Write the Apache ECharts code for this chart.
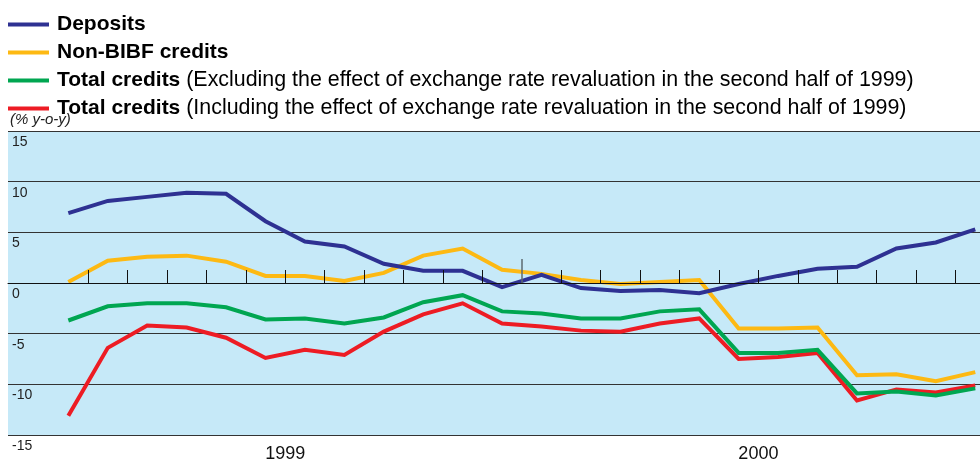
<!DOCTYPE html>
<html>
<head>
<meta charset="utf-8">
<script src="https://cdn.jsdelivr.net/npm/echarts@6/dist/echarts.min.js"></script>
<style>
  html, body { margin: 0; padding: 0; background: #fff; }
  #chart { width: 980px; height: 460px; }
</style>
</head>
<body>
<div id="chart"></div>
<script>
/* ===== data: monthly, Jan 1999 - Dec 2000 (% y-o-y) ===== */
const months = ['Jan-99','Feb-99','Mar-99','Apr-99','May-99','Jun-99','Jul-99','Aug-99','Sep-99','Oct-99','Nov-99','Dec-99',
                'Jan-00','Feb-00','Mar-00','Apr-00','May-00','Jun-00','Jul-00','Aug-00','Sep-00','Oct-00','Nov-00','Dec-00'];
const yearLabels = ['1999', '2000'];

const deposits    = [6.9, 8.1, 8.5, 8.9, 8.8, 6.1, 4.1, 3.6, 1.9, 1.2, 1.2, -0.4,
                     0.8, -0.5, -0.8, -0.7, -1.0, -0.1, 0.7, 1.4, 1.6, 3.4, 4.0, 5.3];
const nonBibf     = [0.1, 2.2, 2.6, 2.7, 2.1, 0.7, 0.7, 0.2, 1.0, 2.7, 3.4, 1.3,
                     0.9, 0.3, -0.1, 0.1, 0.3, -4.5, -4.5, -4.4, -9.1, -9.0, -9.7, -8.8];
const totalExcl   = [-3.7, -2.3, -2.0, -2.0, -2.4, -3.6, -3.5, -4.0, -3.4, -1.9, -1.2, -2.8,
                     -3.0, -3.5, -3.5, -2.8, -2.6, -6.9, -6.9, -6.6, -10.9, -10.7, -11.1, -10.4];
const totalIncl   = [-13.1, -6.4, -4.2, -4.4, -5.4, -7.4, -6.6, -7.1, -4.8, -3.1, -2.0, -4.0,
                     -4.3, -4.7, -4.8, -4.0, -3.5, -7.5, -7.3, -6.9, -11.6, -10.5, -10.8, -10.1];

const names = [
  'Deposits',
  'Non-BIBF credits',
  'Total credits (Excluding the effect of exchange rate revaluation in the second half of 1999)',
  'Total credits (Including the effect of exchange rate revaluation in the second half of 1999)'
];
const colors = ['#2e3192', '#fdb913', '#00a651', '#ed1c24'];

/* ticks sit between months, year labels in the middle of each year */
const yearBreak = [11.5];
const tickPos = months.slice(1).map((m, i) => i + 0.5).filter(t => yearBreak.indexOf(t) < 0);
const yearPos = yearLabels.map((y, i) => i * 12 + 5.5);

const toXY = arr => arr.map((v, i) => [i, v]);
const FONT = '"Liberation Sans", Arial, sans-serif';

const chart = echarts.init(document.getElementById('chart'));

const mkSeries = (i, arr, z) => ({
  name: names[i],
  type: 'line',
  data: toXY(arr),
  showSymbol: false,
  symbol: 'none',
  z: z,
  lineStyle: { color: colors[i], width: 4, join: 'miter' },
  itemStyle: { color: colors[i] },
  animation: false
});

chart.setOption({
  backgroundColor: '#fff',
  textStyle: { fontFamily: FONT },

  legend: {
    orient: 'vertical',
    left: 8,
    top: 14,
    padding: 0,
    itemWidth: 41,
    itemHeight: 4,
    itemGap: 7,
    icon: 'rect',
    selectedMode: false,
    data: names,
    formatter: n => {
      const k = n.indexOf(' (');
      if (k < 0) return '{b|' + n + '}';
      return '{b|' + n.slice(0, k) + '}' + n.slice(k);
    },
    textStyle: {
      fontFamily: FONT,
      fontSize: 21.4,
      lineHeight: 20,
      color: '#000',
      padding: [0, 0, 0, 3],
      rich: {
        b: { fontFamily: FONT, fontSize: 21, fontWeight: 'bold', color: '#000', lineHeight: 20 }
      }
    }
  },

  graphic: [{
    type: 'text',
    left: 10,
    top: 112,
    style: { text: '(% y-o-y)', font: 'italic 15px ' + FONT, fill: '#222' }
  }],

  grid: {
    left: 8, right: 0, top: 131, bottom: 25,
    outerBoundsMode: 'none',
    containLabel: false,
    show: true,
    backgroundColor: '#c6e9f8',
    borderWidth: 0
  },

  xAxis: [{
    type: 'value',
    z: 10,
    min: -1.53, max: 23.12,
    axisLine: { onZero: true, lineStyle: { color: '#111', width: 1 } },
    axisTick: { show: true, inside: true, length: 13, customValues: tickPos, lineStyle: { color: '#111', width: 1 } },
    axisLabel: { show: false },
    splitLine: { show: false }
  }, {
    type: 'value',
    position: 'bottom',
    min: -1.53, max: 23.12,
    axisLine: { show: false, onZero: false },
    axisTick: { show: false },
    axisLabel: {
      show: true,
      customValues: yearPos,
      formatter: v => yearLabels[Math.round((v - 5.5) / 12)],
      fontSize: 18, color: '#111', margin: 10, fontFamily: FONT
    },
    splitLine: { show: false }
  }, {
    type: 'value',
    position: 'bottom',
    z: 10,
    offset: -152,
    min: -1.53, max: 23.12,
    axisLine: { show: false, onZero: false },
    axisTick: { show: true, inside: true, length: 24, customValues: yearBreak, lineStyle: { color: '#5c6a70', width: 1.5 } },
    axisLabel: { show: false },
    splitLine: { show: false }
  }],

  yAxis: {
    type: 'value',
    min: -15, max: 15, interval: 5,
    axisLine: { show: false },
    axisTick: { show: false },
    axisLabel: {
      inside: true,
      margin: 4,
      verticalAlign: 'top',
      padding: [4, 0, 0, 0],
      fontSize: 14,
      color: '#222',
      fontFamily: FONT
    },
    splitLine: { show: true, lineStyle: { color: '#333', width: 1 } }
  },

  series: [
    mkSeries(0, deposits, 5),
    mkSeries(1, nonBibf, 4),
    mkSeries(2, totalExcl, 3),
    mkSeries(3, totalIncl, 2)
  ]
});
</script>
</body>
</html>
